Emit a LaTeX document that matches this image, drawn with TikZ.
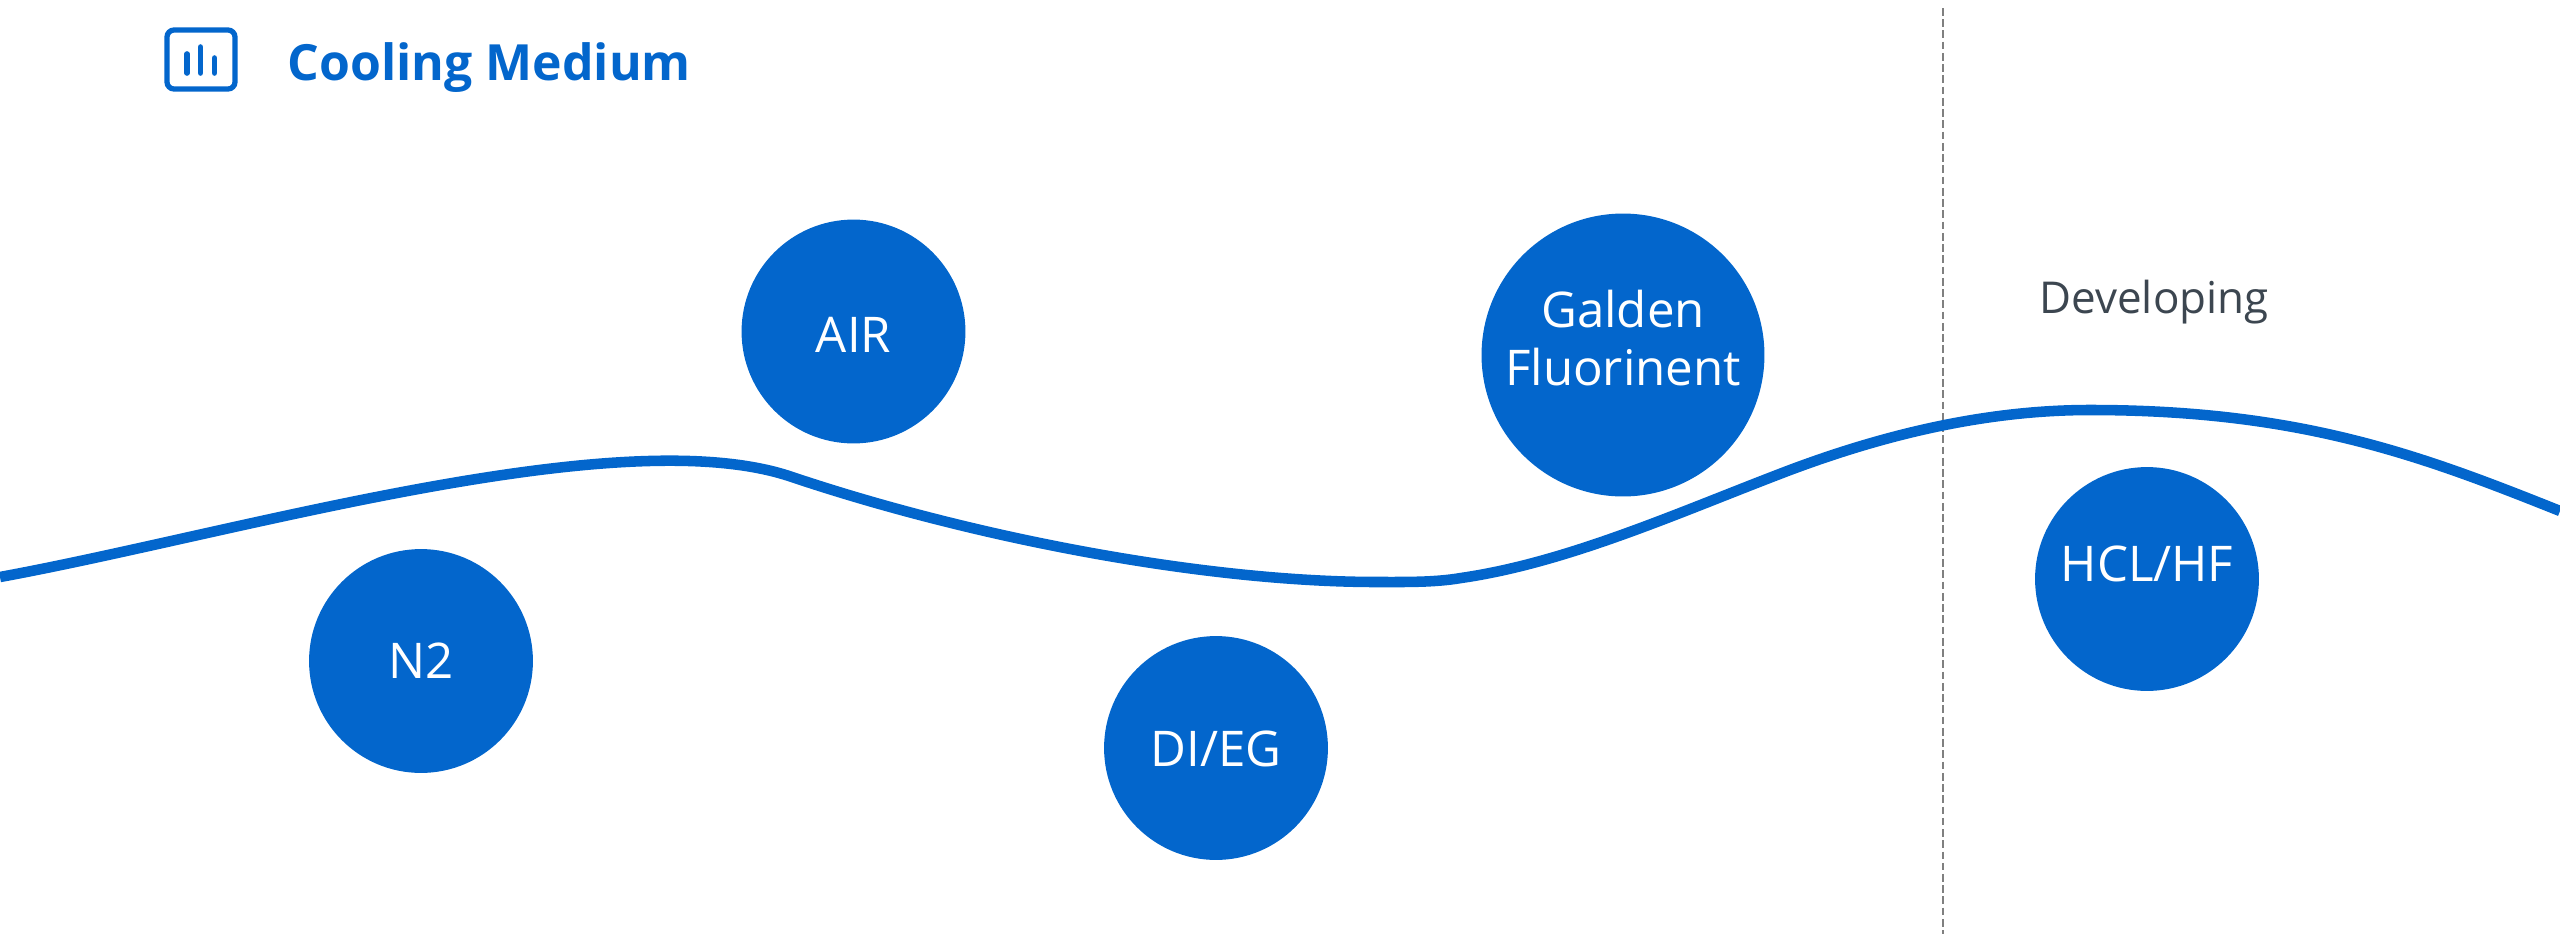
\documentclass[tikz,border=0pt]{standalone}
\usepackage{fontspec}
\setmainfont{Open Sans}
\definecolor{coolblue}{HTML}{0366CC}
\definecolor{devgray}{HTML}{3C4650}
\newcommand{\lifted}[2]{\raisebox{#1}[0pt][0pt]{#2}}
\tikzset{
  medium/.style={draw=none, fill=coolblue, circle, text=white, inner sep=0pt, minimum size=#1, align=center, font=\fontsize{14}{16.5}\selectfont},
  medium/.default=63.7pt,
}
\begin{document}
\begin{tikzpicture}[x=0.1mm, y=-0.1mm]
\useasboundingbox (0,0) rectangle (2560,934);
\coordinate (c0) at (0,577);
\coordinate (c1) at (792,477);
\coordinate (c2) at (1377,582);
\coordinate (c3) at (1461,578);
\coordinate (c4) at (1777,475);
\coordinate (c5) at (2090,410);
\coordinate (c6) at (2560,511);
\coordinate (d1) at (1943,8);
\coordinate (d2) at (1943,934);
\draw[gray, line width=0.5pt, dash pattern=on 2.2pt off 1pt] (d1) -- (d2);
\draw[coolblue, line width=3pt] (c0)
  .. controls (230,535) and (620,418) .. (c1)
  .. controls (980,540) and (1210,582) .. (c2)
  .. controls (1405,582) and (1435,582.5) .. (c3)
  .. controls (1565,563) and (1673,515) .. (c4)
  .. controls (1880,435) and (1985,410) .. (c5)
  .. controls (2300,410) and (2420,455) .. (c6);
\node[medium] (air) at (853.5,331.5) {\lifted{-6.1pt}{AIR}};
\node[medium=80.5pt] (galden) at (1623,355) {\lifted{-8.8pt}{\begin{tabular}[b]{@{}c@{}}Galden\\Fluorinent\end{tabular}}};
\node[medium] (n2) at (421,661) {\lifted{-5.1pt}{N2}};
\node[medium] (dieg) at (1216,748) {\lifted{-5.4pt}{DI/EG}};
\node[medium] (hcl) at (2147,579) {\lifted{-0.85pt}{HCL/HF}};
\node[text=devgray, font=\fontsize{12.5}{15}\selectfont, anchor=base, inner sep=0pt] (dev) at (2154,313) {Developing};
\node[text=coolblue, font=\bfseries\fontsize{14.2}{17}\selectfont, anchor=base west, inner sep=0pt] (title) at (287,80) {Cooling Medium};
% icon
\draw[coolblue, line width=1.5pt, rounded corners=2pt] (167,30) rectangle (235,89);
\foreach \bx/\by in {187/54, 200.5/47, 214.5/58}
  \draw[coolblue, line width=1.6pt, line cap=round] (\bx,\by) -- (\bx,73);
\end{tikzpicture}
\end{document}
